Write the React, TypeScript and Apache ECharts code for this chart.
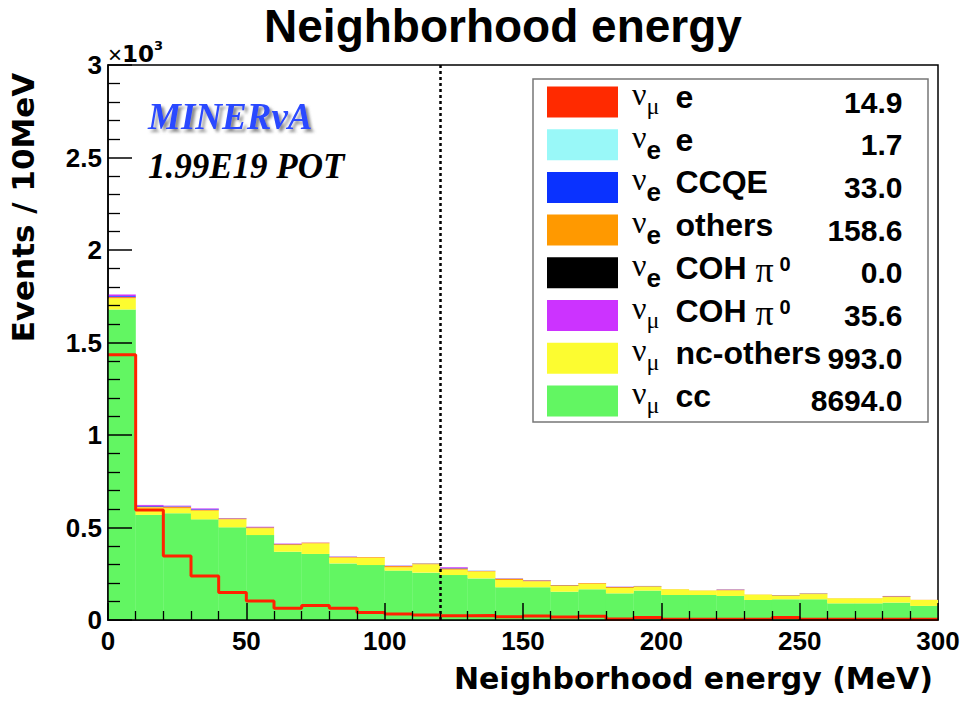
import React, { useEffect, useRef } from 'react';
import * as echarts from 'echarts';

// ---- data (events per 10 MeV bin) ----
const binCenters = ['5', '15', '25', '35', '45', '55', '65', '75', '85', '95', '105', '115', '125', '135', '145', '155', '165', '175', '185', '195', '205', '215', '225', '235', '245', '255', '265', '275', '285', '295'];
const binEdges = [0, 10, 20, 30, 40, 50, 60, 70, 80, 90, 100, 110, 120, 130, 140, 150, 160, 170, 180, 190, 200, 210, 220, 230, 240, 250, 260, 270, 280, 290, 300];

const numuCC = [1679, 568, 577, 544, 501, 459, 369, 357, 306, 297, 267, 256, 243, 225, 177, 177, 153, 166, 144, 159, 135, 135, 130, 108, 112, 112, 90, 90, 94, 76];
const numuNcOthers = [60, 40, 27, 47, 43, 37, 36, 57, 31, 38, 18, 45, 29, 37, 39, 32, 31, 29, 29, 21, 31, 24, 30, 29, 19, 28, 27, 27, 30, 32];
const numuCohPi0 = [8, 5, 3, 4, 1, 2, 2, 1, 1, 0, 1, 0, 4, 0, 1, 1, 0, 0, 1, 0, 0, 0, 1, 0, 0, 0, 0, 0, 1, 0];
const nueCohPi0 = [0, 0, 0, 0, 0, 0, 0, 0, 0, 0, 0, 0, 0, 0, 0, 0, 0, 0, 0, 0, 0, 0, 0, 0, 0, 0, 0, 0, 0, 0];
const nueOthers = [4, 3, 6, 4, 4, 4, 4, 4, 3, 4, 6, 4, 6, 3, 7, 5, 4, 4, 5, 3, 1, 1, 4, 1, 3, 3, 1, 1, 4, 1];
const nueCCQE = [5, 4, 2, 3, 1, 1, 1, 0, 1, 0, 1, 1, 2, 1, 1, 1, 1, 0, 1, 1, 0, 0, 1, 0, 1, 1, 0, 0, 1, 0];
const nueE = [1, 0, 1, 0, 0, 0, 0, 0, 0, 0, 0, 0, 0, 0, 0, 0, 0, 0, 0, 0, 0, 0, 0, 0, 0, 0, 0, 0, 0, 0];
const numuE = [3, 2, 2, 1, 1, 1, 1, 0, 1, 0, 1, 0, 1, 0, 0, 0, 0, 0, 0, 0, 0, 0, 0, 0, 0, 0, 0, 0, 0, 0];
// red outline histogram (unfilled)
const redOutline = [1434, 595, 346, 238, 148, 103, 63, 78, 63, 41, 32, 27, 23, 24, 18, 22, 16, 20, 5, 14, 4, 4, 4, 4, 14, 4, 4, 4, 4, 4];

const legendNames = ['νμ e', 'νe e', 'νe CCQE', 'νe others', 'νe COH π0', 'νμ COH π0', 'νμ nc-others', 'νμ cc'];
const legendTotals = ['14.9', '1.7', '33.0', '158.6', '0.0', '35.6', '993.0', '8694.0'];
const cutValue = 120;

const SANS = '"Liberation Sans", Arial, Helvetica, sans-serif';
const WIDE = '"DejaVu Sans", sans-serif';
const SERIF = '"Liberation Serif", "Times New Roman", serif';

// bottom -> top stacking order
const stackOrder: { name: string; data: number[]; color: string }[] = [
  { name: 'νμ cc', data: numuCC, color: '#62f662' },
  { name: 'νμ nc-others', data: numuNcOthers, color: '#fcfc30' },
  { name: 'νe others', data: nueOthers, color: '#ff9900' },
  { name: 'νμ e', data: numuE, color: '#ff2a00' },
  { name: 'νe e', data: nueE, color: '#99f8f8' },
  { name: 'νe COH π0', data: nueCohPi0, color: '#000000' },
  { name: 'νe CCQE', data: nueCCQE, color: '#0a32ff' },
  { name: 'νμ COH π0', data: numuCohPi0, color: '#cc33ff' },
];

function legendFormatter(name: string): string {
  const idx = legendNames.indexOf(name);
  const flavor = name.charAt(1);
  const rest = name.slice(3);
  const sub = flavor === 'μ' ? '{subm|μ}' : '{sube|e}';
  let label: string;
  if (rest.endsWith('π0')) {
    label = '{cohlab|COH }{pi|π}{sup|0}';
  } else {
    label = `{lab|${rest}}`;
  }
  return `{nu|ν}${sub}${label}{val|${legendTotals[idx]}}`;
}

export default function App() {
  const ref = useRef<HTMLDivElement>(null);

  useEffect(() => {
    if (!ref.current) return;
    const chart = echarts.init(ref.current, null, { renderer: 'svg' });

    const barSeries = stackOrder.map((s) => ({
      name: s.name,
      type: 'bar',
      stack: 'mc',
      xAxisIndex: 1,
      yAxisIndex: 0,
      barWidth: '101%',
      barCategoryGap: '0%',
      silent: true,
      itemStyle: { color: s.color },
      emphasis: { disabled: true },
      data: s.data,
    }));

    const option: any = {
      animation: false,
      backgroundColor: '#fff',
      title: {
        text: 'Neighborhood energy',
        left: 498,
        top: -2,
        textAlign: 'center',
        textStyle: { fontFamily: SANS, fontWeight: 'bold', fontSize: 46, color: '#000' },
      },
      grid: {
        left: 108,
        top: 65,
        width: 830,
        height: 555,
        show: true,
        borderColor: '#000',
        borderWidth: 1.5,
        backgroundColor: '#fff',
        outerBoundsMode: 'none',
      },
      xAxis: [
        {
          type: 'value',
          position: 'bottom',
          min: 0,
          max: 300,
          interval: 50,
          z: 10,
          axisLine: { show: true, onZero: false, lineStyle: { color: '#000', width: 1.5 } },
          axisTick: { show: true, inside: true, length: 17, lineStyle: { color: '#000', width: 1.5 } },
          minorTick: { show: true, splitNumber: 5, length: 9, lineStyle: { color: '#000', width: 1.3 } },
          splitLine: { show: false },
          minorSplitLine: { show: false },
          axisLabel: { color: '#000', fontFamily: SANS, fontWeight: 'bold', fontSize: 26, margin: 8 },
        },
        {
          type: 'category',
          position: 'top',
          data: binCenters,
          boundaryGap: true,
          show: false,
        },
      ],
      yAxis: {
        type: 'value',
        min: 0,
        max: 3000,
        interval: 500,
        z: 10,
        axisLine: { show: true, onZero: false, lineStyle: { color: '#000', width: 1.5 } },
        axisTick: { show: true, inside: true, length: 24, lineStyle: { color: '#000', width: 1.5 } },
        minorTick: { show: true, splitNumber: 5, length: 12, lineStyle: { color: '#000', width: 1.3 } },
        splitLine: { show: false },
        minorSplitLine: { show: false },
        axisLabel: {
          color: '#000',
          fontFamily: SANS,
          fontWeight: 'bold',
          fontSize: 26,
          margin: 6,
          formatter: (v: number) => String(v / 1000),
        },
      },
      legend: {
        orient: 'vertical',
        left: 533,
        top: 71,
        padding: [7, 0, 0, 14],
        itemWidth: 71,
        itemHeight: 31,
        itemGap: -5.3,
        icon: 'rect',
        selectedMode: false,
        z: 6,
        data: legendNames,
        formatter: legendFormatter,
        textStyle: {
          color: '#000',
          rich: {
            nu: { fontFamily: SERIF, fontSize: 32, color: '#000', lineHeight: 31, padding: [0, 0, 16, 9] },
            subm: { fontFamily: SERIF, fontSize: 24, color: '#000', width: 29, lineHeight: 31, padding: [8, 0, 0, 0] },
            sube: { fontFamily: SANS, fontWeight: 'bold', fontSize: 26, color: '#000', width: 29, lineHeight: 31, padding: [10, 0, 0, 0] },
            lab: { fontFamily: SANS, fontWeight: 'bold', fontSize: 32, color: '#000', width: 137, lineHeight: 31, padding: [0, 0, 10, 0] },
            cohlab: { fontFamily: SANS, fontWeight: 'bold', fontSize: 32, color: '#000', width: 80, lineHeight: 31, padding: [0, 0, 10, 0] },
            pi: { fontFamily: SERIF, fontSize: 36, color: '#000', width: 24, lineHeight: 31, padding: [0, 0, 6, 0] },
            sup: { fontFamily: SANS, fontWeight: 'bold', fontSize: 20, color: '#000', width: 33, lineHeight: 31, padding: [0, 0, 18, 0] },
            val: { fontFamily: SANS, fontWeight: 'bold', fontSize: 30, color: '#000', width: 90, align: 'right', lineHeight: 31 },
          },
        },
      },
      graphic: [
        {
          type: 'rect',
          z: 3,
          silent: true,
          shape: { x: 533, y: 79, width: 395, height: 343 },
          style: { fill: '#fff', stroke: '#777', lineWidth: 1.5 },
        },
        {
          type: 'text',
          x: 148,
          y: 116.5,
          silent: true,
          style: {
            text: 'MINERvA',
            fontFamily: SERIF,
            fontStyle: 'italic',
            fontWeight: 'bold',
            fontSize: 37,
            fill: '#2a48ff',
            verticalAlign: 'middle',
            textShadowColor: 'rgba(110,110,110,0.8)',
            textShadowBlur: 3,
            textShadowOffsetX: 3,
            textShadowOffsetY: 3,
          },
        },
        {
          type: 'text',
          x: 148,
          y: 166,
          silent: true,
          style: {
            text: '1.99E19 POT',
            fontFamily: SERIF,
            fontStyle: 'italic',
            fontWeight: 'bold',
            fontSize: 35,
            fill: '#000',
            verticalAlign: 'middle',
          },
        },
        {
          type: 'text',
          x: 108,
          y: 54,
          silent: true,
          style: {
            text: '{x|×}{b|10}{s|3}',
            fontSize: 23,
            verticalAlign: 'middle',
            rich: {
              x: { fontFamily: SANS, fontSize: 24, fill: '#000', lineHeight: 24 },
              b: { fontFamily: WIDE, fontWeight: 'bold', fontSize: 23, fill: '#000', lineHeight: 24 },
              s: { fontFamily: WIDE, fontWeight: 'bold', fontSize: 13, fill: '#000', lineHeight: 24, padding: [0, 0, 18, 0] },
            },
          },
        },
        {
          type: 'text',
          x: 933,
          y: 678,
          silent: true,
          style: {
            text: 'Neighborhood energy (MeV)',
            fontFamily: WIDE,
            fontWeight: 'bold',
            fontSize: 30,
            fill: '#000',
            align: 'right',
            verticalAlign: 'middle',
          },
        },
        {
          type: 'text',
          x: 22.6,
          y: 207.5,
          rotation: Math.PI / 2,
          silent: true,
          style: {
            text: 'Events / 10MeV',
            fontFamily: WIDE,
            fontWeight: 'bold',
            fontSize: 31,
            fill: '#000',
            align: 'center',
            verticalAlign: 'middle',
          },
        },
      ],
      series: [
        ...barSeries,
        {
          name: 'outline',
          type: 'line',
          xAxisIndex: 0,
          yAxisIndex: 0,
          step: 'end',
          symbol: 'none',
          silent: true,
          z: 5,
          lineStyle: { color: '#ff2200', width: 3 },
          data: binEdges.map((e, i) => [e, redOutline[Math.min(i, redOutline.length - 1)]]),
          markLine: {
            silent: true,
            symbol: ['none', 'none'],
            label: { show: false },
            lineStyle: { color: '#000', type: [3, 3], width: 2.5 },
            data: [{ xAxis: cutValue }],
          },
        },
      ],
    };

    chart.setOption(option);
    return () => {
      chart.dispose();
    };
  }, []);

  return (
    <div
      ref={ref}
      style={{ position: 'fixed', left: 0, top: 0, width: 965, height: 702, background: '#fff' }}
    />
  );
}
